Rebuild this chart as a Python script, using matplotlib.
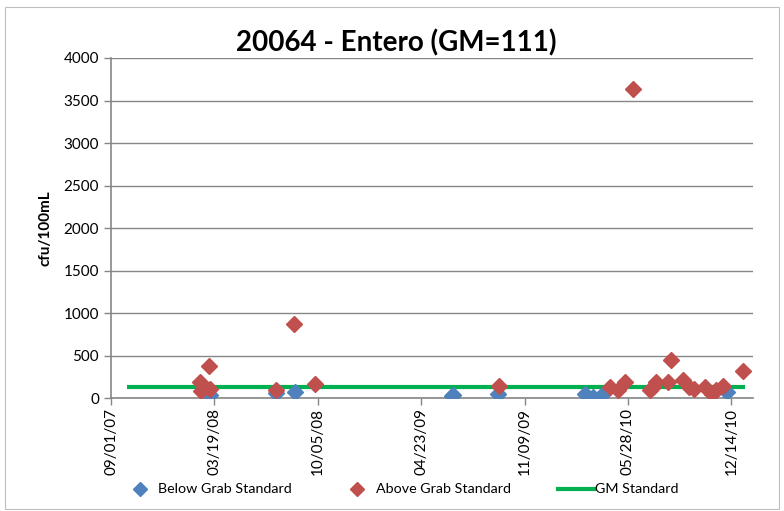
import matplotlib
matplotlib.use("Agg")
import matplotlib.pyplot as plt
import matplotlib.dates as mdates
from matplotlib.lines import Line2D
from matplotlib.patches import Rectangle
import pandas as pd

plt.rcParams['font.family'] = ['Lato', 'DejaVu Sans']

title = "20064 - Entero (GM=111)"
y_label = "cfu/100mL"

below_dates = ["2008-03-11", "2008-07-17", "2008-08-21", "2009-06-22", "2009-06-23",
               "2009-09-19", "2010-03-06", "2010-03-21", "2010-04-10", "2010-12-06"]
below_values = [35, 59, 70, 25, 40, 43, 43, 16, 43, 67]

above_dates = ["2008-02-21", "2008-02-22", "2008-03-09", "2008-03-10", "2008-07-17",
               "2008-08-20", "2008-09-30", "2009-09-21", "2010-04-23", "2010-05-09",
               "2010-05-23", "2010-06-06", "2010-07-09", "2010-07-16", "2010-07-22",
               "2010-08-14", "2010-08-20", "2010-09-12", "2010-09-23", "2010-10-02",
               "2010-10-24", "2010-11-06", "2010-11-15", "2010-11-28", "2011-01-06"]
above_values = [192, 86, 376, 106, 94,
                867, 161, 141, 133, 94,
                192, 3635, 94, 133, 192,
                192, 447, 212, 133, 102,
                126, 43, 94, 145, 318]

gm_dates = ["2007-10-02", "2011-01-09"]
gm_values = [125, 125]

legend_labels = ["Below Grab Standard", "Above Grab Standard", "GM Standard"]

x_start = "2007-09-01"
x_end = "2011-01-25"
tick_step_days = 200
y_max = 4000
y_step = 500

blue = "#4F81BD"
red = "#C0504D"
green = "#00B050"
axis_gray = "#868686"

W, H = 784, 511
fig = plt.figure(figsize=(W / 100, H / 100), dpi=100)
fig.patches.append(Rectangle((0.006, 0.004), 0.988, 0.982, transform=fig.transFigure,
                             fill=False, edgecolor="#BFBFBF", linewidth=0.8))
ax = fig.add_axes([0.1416, 0.2211, 0.8189, 0.6654])

bd = pd.to_datetime(below_dates)
ad = pd.to_datetime(above_dates)
gd = pd.to_datetime(gm_dates)

ax.plot(gd, gm_values, color=green, linewidth=3, zorder=2, solid_capstyle='butt')
ax.plot(bd, below_values, linestyle='none', marker='D', markersize=8,
        color=blue, markeredgecolor=blue, zorder=3)
ax.plot(ad, above_values, linestyle='none', marker='D', markersize=8,
        color=red, markeredgecolor=red, zorder=4)

x0 = pd.Timestamp(x_start)
x1 = pd.Timestamp(x_end)
ax.set_xlim(x0, x1)
ticks = pd.date_range(x0, x1, freq=f"{tick_step_days}D")
ax.set_xticks(ticks)
ax.xaxis.set_major_formatter(mdates.DateFormatter("%m/%d/%y"))
for lab in ax.get_xticklabels():
    lab.set_rotation(90)

ax.set_ylim(0, y_max)
ax.set_yticks(range(0, y_max + 1, y_step))
ax.yaxis.grid(True, color=axis_gray, linewidth=1)
ax.set_axisbelow(True)

for s in ["top", "right"]:
    ax.spines[s].set_visible(False)
for s in ["left", "bottom"]:
    ax.spines[s].set_color(axis_gray)
    ax.spines[s].set_linewidth(1.2)
ax.tick_params(axis='both', colors=axis_gray, labelcolor="black", labelsize=11,
               length=5, width=1)
ax.tick_params(axis='x', pad=2)

ax.set_ylabel(y_label, fontsize=11, fontweight='bold', labelpad=8)
fig.text(0.506, 0.917, title, ha='center', va='center', fontsize=20, fontweight='bold')

# legend, laid out manually in figure pixels
ly = 1 - 489 / H
fig.add_artist(Line2D([140 / W], [ly], transform=fig.transFigure, linestyle='none',
                      marker='D', markersize=7, color=blue))
fig.text(158 / W, ly, legend_labels[0], ha='left', va='center', fontsize=10.3)
fig.add_artist(Line2D([357 / W], [ly], transform=fig.transFigure, linestyle='none',
                      marker='D', markersize=7, color=red))
fig.text(376 / W, ly, legend_labels[1], ha='left', va='center', fontsize=10.3)
fig.add_artist(Line2D([558 / W, 594 / W], [ly, ly], transform=fig.transFigure,
                      color=green, linewidth=3))
fig.text(595 / W, ly, legend_labels[2], ha='left', va='center', fontsize=10.3)

fig.savefig("out.png", dpi=100)
